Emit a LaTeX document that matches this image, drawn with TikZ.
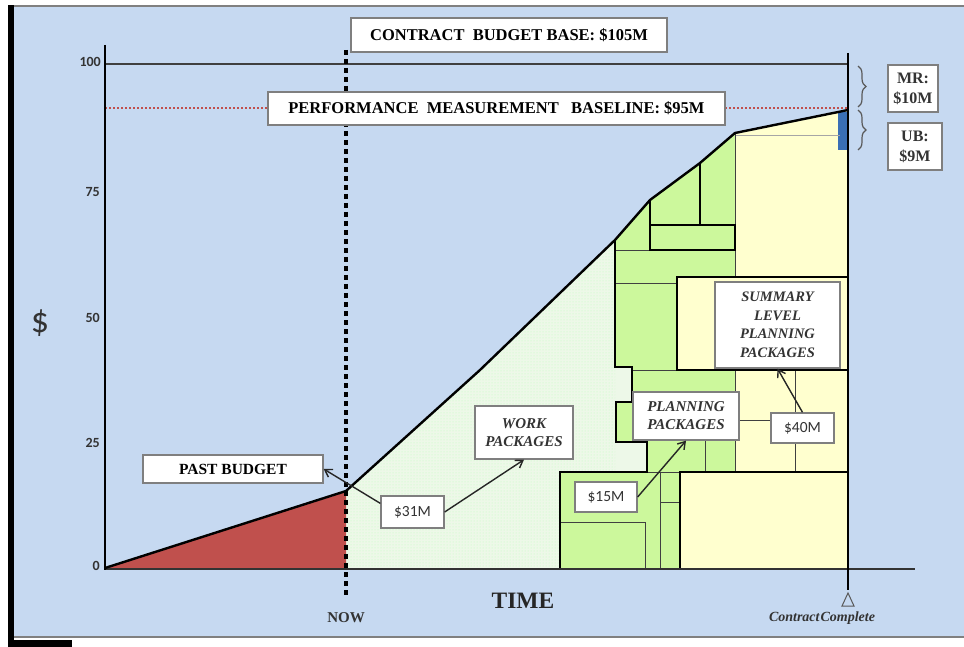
\documentclass[tikz,border=0pt]{standalone}
\usepackage{fontspec}
\setmainfont{Liberation Serif}
\newfontfamily\calfont{Carlito}
\usetikzlibrary{decorations.pathreplacing,arrows.meta,patterns}

\definecolor{bgblue}{HTML}{C6D9F1}
\definecolor{pastred}{HTML}{C0504D}
\definecolor{wpgreen}{HTML}{EDF8E8}
\definecolor{ppgreen}{HTML}{CCF89C}
\definecolor{slyellow}{HTML}{FFFFCF}
\definecolor{boxgray}{HTML}{7F7F7F}
\definecolor{ubblue}{HTML}{3A6FB5}
\definecolor{textgray}{HTML}{333333}

\begin{document}
\begin{tikzpicture}[x=1pt,y=-1pt,
  lbl/.style={draw=boxgray,line width=1.3pt,fill=white,inner sep=0pt,align=center,text=black},
  hdr/.style={lbl,font=\fontsize{16.5}{19}\selectfont\bfseries},
  money/.style={lbl,font=\calfont\fontsize{15.5}{18}\selectfont,text=textgray},
  pkg/.style={lbl,font=\fontsize{15}{18}\selectfont\bfseries\itshape,text=textgray},
  thickline/.style={line width=2.4pt,black},
  thinline/.style={line width=0.9pt,black!75},
  tick/.style={font=\calfont\bfseries\fontsize{14}{16}\selectfont,text=textgray,anchor=east,inner sep=0pt},
  callout/.style={line width=1.4pt,black!85,-{Straight Barb[length=7pt,width=9pt,line width=1.4pt]}},
  bracestyle/.style={draw=black!65,line width=1.2pt,decorate,decoration={brace,amplitude=8pt}}
]
\useasboundingbox (0,0) rectangle (964,647);
% frame
\fill[white] (0,0) rectangle (964,647);
\fill[bgblue] (14,6) rectangle (964,637);
\draw[black!50,line width=1.2pt] (14,6) -- (964,6);
\draw[black!50,line width=1.2pt] (14,637) -- (964,637);
\fill[black] (8,5) rectangle (14,647);
\fill[black] (8,640) rectangle (72,647);

% work package (light) area under curve
\fill[wpgreen] (346,568) -- (346,490) -- (480,370) -- (615,240) -- (650,200) -- (700,163) -- (735,133) -- (848,110) -- (848,568) -- cycle;
\fill[pattern=dots,pattern color=green!25!white] (346,568) -- (346,490) -- (480,370) -- (615,240) -- (615,568) -- cycle;

% summary level (yellow)
\fill[slyellow] (735,133) -- (848,110) -- (848,568) -- (680,568) -- (680,472) -- (735,472) -- (735,370) -- (677,370) -- (677,277) -- (735,277) -- cycle;

% planning packages (green)
\fill[ppgreen] (615,240) -- (650,200) -- (700,163) -- (735,133) -- (735,277) -- (677,277) -- (677,370) -- (735,370) -- (735,472) -- (680,472) -- (680,568) -- (560,568) -- (560,472) -- (647,472) -- (647,442) -- (616,442) -- (616,402) -- (632,402) -- (632,367) -- (615,367) -- cycle;

% past budget
\fill[pastred] (105,568) -- (346,492) -- (346,568) -- cycle;

% blue UB sliver
\fill[ubblue] (838,112) rectangle (848,150);

% internal thin lines
\draw[black!35,line width=0.6pt] (735,135) -- (840,135);
\draw[thinline] (735,133) -- (735,277);
\draw[thinline] (615,250) -- (650,250);
\draw[thinline] (615,283) -- (677,283);
\draw[thinline] (632,370) -- (677,370);
\draw[thinline] (647,472) -- (680,472);
\draw[thinline] (705,440) -- (705,472);
\draw[thinline] (735,370) -- (735,472);
\draw[thinline] (795,370) -- (795,472);
\draw[thinline] (739,420) -- (771,420);
\draw[thinline] (660,472) -- (660,568);
\draw[thinline] (660,502) -- (680,502);
\draw[thinline] (560,522) -- (645,522) -- (645,568);

% thick outlines in packages
\draw[thickline] (615,240) -- (615,367) -- (632,367) -- (632,402) -- (616,402) -- (616,442) -- (647,442) -- (647,472) -- (560,472) -- (560,568);
\draw[thickline,line width=2pt] (650,225) rectangle (735,250);
\draw[thickline,line width=2pt] (650,200) -- (650,225);
\draw[thickline,line width=2pt] (700,163) -- (700,225);
\draw[thickline,line width=2pt,fill=slyellow] (677,277) rectangle (848,370);
\draw[thickline,line width=2pt] (680,568) -- (680,472) -- (848,472);

% axes
\draw[black!80,line width=1.2pt] (105,569) -- (915,569);
\draw[black!75,line width=1.3pt] (105,64) -- (848,64);
\draw[pastred,line width=1.6pt,dash pattern=on 2pt off 2pt] (105,108) -- (268,108);
\draw[pastred,line width=1.6pt,dash pattern=on 2pt off 2pt] (725,108) -- (848,108);
\draw[thickline] (105,568) -- (346,491) -- (480,370) -- (615,240) -- (650,200) -- (700,163) -- (735,133) -- (848,110);
\draw[line width=2.6pt,black] (105,45) -- (105,570);
\draw[line width=2.6pt,black] (848,53) -- (848,590);
\draw[line width=4.2pt,black,dash pattern=on 5pt off 4pt] (346,50) -- (346,598);

% triangle marker
\draw[black!65,line width=1pt] (842,606) -- (854,606) -- (848,593) -- cycle;

% braces
\draw[bracestyle] (858,66) -- (858,107);
\draw[bracestyle] (858,110) -- (858,150);

% tick labels
\node[tick] (t100) at (101,62) {100};
\node[tick] (t75) at (100,192) {75};
\node[tick] (t50) at (100,318) {50};
\node[tick] (t25) at (100,443) {25};
\node[tick] (t0) at (100,566) {0};
\node[font=\calfont\fontsize{36}{38}\selectfont,text=textgray] (dollar) at (40,323) {\$};

% axis labels
\node[font=\fontsize{15}{17}\selectfont\bfseries,text=textgray] (now) at (346,618) {NOW};
\node[font=\fontsize{23.5}{26}\selectfont\bfseries,text=black!85] (time) at (523,601) {TIME};
\node[font=\fontsize{14}{16}\selectfont\bfseries\itshape,text=textgray] (cc) at (822,618) {Contract\hspace{1pt}Complete};

% boxes
\node[hdr,minimum width=316pt,minimum height=34pt] (cbb) at (509,35) {CONTRACT~~BUDGET BASE: \$105M};
\node[hdr,minimum width=457pt,minimum height=33pt] (pmb) at (496.5,108.5) {PERFORMANCE~~MEASUREMENT~~~BASELINE: \$95M};
\node[hdr,minimum width=50pt,minimum height=47pt,font=\fontsize{16}{20}\selectfont\bfseries,text=black!80] (mr) at (913,88.5) {MR:\\\$10M};
\node[hdr,minimum width=54pt,minimum height=47pt,font=\fontsize{16}{20}\selectfont\bfseries,text=black!80] (ub) at (915,146.5) {UB:\\\$9M};
\node[hdr,minimum width=180pt,minimum height=28pt,font=\fontsize{15.5}{18}\selectfont\bfseries] (pb) at (233,469) {PAST BUDGET};
\node[money,minimum width=63pt,minimum height=32pt] (m31) at (412.5,512) {\$31M};
\node[pkg,minimum width=98pt,minimum height=53pt] (wp) at (524,432.5) {WORK\\PACKAGES};
\node[money,minimum width=62pt,minimum height=30pt] (m15) at (606,497) {\$15M};
\node[pkg,minimum width=106pt,minimum height=48pt] (pp) at (686,416) {PLANNING\\PACKAGES};
\node[money,minimum width=63pt,minimum height=30pt] (m40) at (802.5,428) {\$40M};
\node[pkg,minimum width=125pt,minimum height=86pt,font=\fontsize{14.5}{18.5}\selectfont\bfseries\itshape] (slpp) at (777.5,325) {SUMMARY\\LEVEL\\PLANNING\\PACKAGES};

% callouts
\draw[callout] (m31.165) -- (pb.east);
\draw[callout] (m31.east) -- (wp.south);
\draw[callout] (m15.east) -- (pp.south);
\draw[callout] (m40.north) -- (slpp.south);
\end{tikzpicture}
\end{document}
